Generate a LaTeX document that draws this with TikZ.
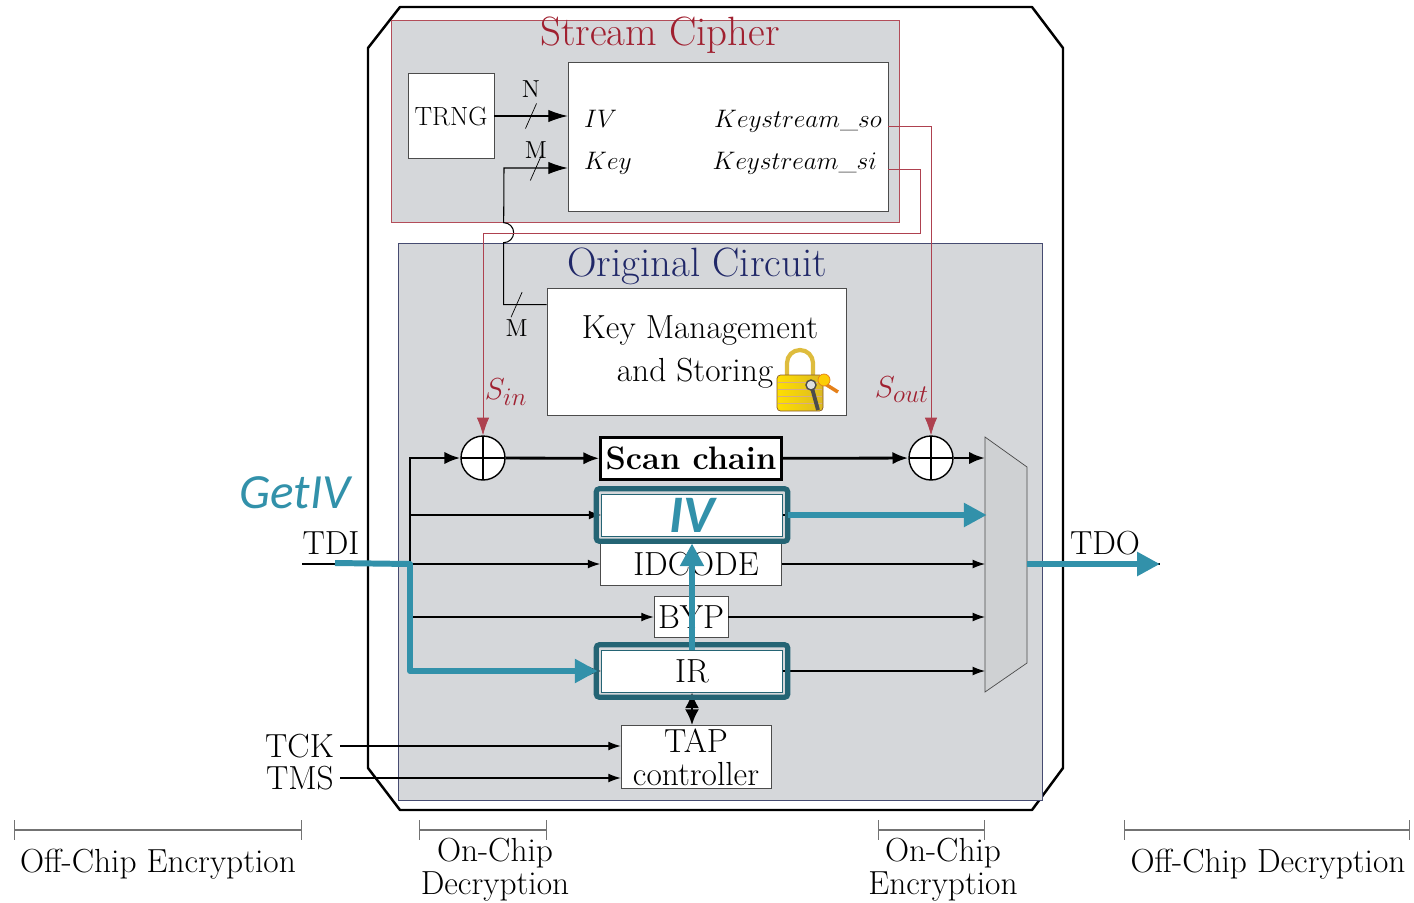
\documentclass[tikz,border=0pt]{standalone}
\usepackage{fontspec}
\newfontfamily\getivfont{Carlito}
\usetikzlibrary{positioning}
\usetikzlibrary{arrows.meta}
\usetikzlibrary{calc}
\definecolor{cipherred}{RGB}{160,32,48}
\definecolor{circuitnavy}{RGB}{32,40,104}
\definecolor{panelgray}{RGB}{213,215,218}
\definecolor{ivteal}{RGB}{50,145,170}
\definecolor{ivframe}{RGB}{36,100,116}
\tikzset{
  wire/.style={semithick,-{Latex[length=7pt,width=5pt]}},
  portwire/.style={semithick,-{Latex[length=11pt,width=7pt]}},
  bus/.style={line width=1.6pt,-{Latex[length=9pt,width=7pt]}},
  keywire/.style={draw=cipherred!85,thin,-{Latex[length=10pt,width=7pt]}},
  chip/.style={line width=1.4pt,line join=round},
  panel/.style={rectangle,draw=#1,thin,fill=panelgray,inner sep=0pt},
  paneltitle/.style={font=\fontsize{23.3}{26}\selectfont},
  portfont/.style={font=\fontsize{14}{16}\selectfont},
  lbl/.style={font=\fontsize{14}{15}\selectfont,inner sep=1pt},
  block/.style={rectangle,draw=black!70,fill=white,inner sep=1pt},
  reg/.style={block,minimum width=3.62cm,minimum height=0.84cm},
  scanbox/.style={reg,draw=black,line width=1.4pt,
    font=\fontsize{18.5}{20}\selectfont\bfseries},
  xor/.style={circle,draw,thick,fill=white,minimum size=0.88cm,inner sep=0pt,
    path picture={\draw[thick] (path picture bounding box.north) --
      (path picture bounding box.south) (path picture bounding box.west) --
      (path picture bounding box.east);}},
  slash/.style={inner sep=0pt,minimum width=0.2cm,minimum height=0.48cm},
  hiframe/.style={draw=ivframe,line width=3pt,rounded corners=2pt},
  getiv/.style={draw=ivteal,line width=3.4pt,line join=round,
    -{Triangle[length=13pt,width=13pt]}},
  spanbar/.style={draw=black!55,thick,{Bar[width=11pt]}-{Bar[width=11pt]}},
  twoline/.style={align=center,font=\fontsize{19}{18.8}\selectfont}
}

\begin{document}
\begin{tikzpicture}[x=0.02cm,y=-0.02cm,font=\fontsize{19}{21}\selectfont]
  \useasboundingbox (0,0) rectangle (1414,903);
  % chip outline
  \draw[chip] (400,7) -- (1032,7) -- (1063,48) -- (1063,768) -- (1032,810)
    -- (400,810) -- (368,768) -- (368,48) -- cycle;

  % stream cipher
  \node (cipher) [panel=cipherred!80,minimum width=10.16cm,minimum height=4.04cm]
    at (645,121) {};
  \node (ctitle) [paneltitle,text=cipherred] at (660,35) {Stream Cipher};
  \node (trng) [block,font=\fontsize{15}{16}\selectfont,minimum width=1.72cm,
    minimum height=1.7cm] at (451,116) {TRNG};
  \node (sc) [block,minimum width=6.4cm,minimum height=2.98cm] at (728,137) {};
  \node (ivport) [portfont,anchor=base west] at (578,127) {$IV$};
  \node (keyport) [portfont,anchor=base west] at (578,169) {$Key$};
  \node (soport) [portfont,anchor=base east] at (888,127) {$Keystream\_so$};
  \node (siport) [portfont,anchor=base east] at (883,169) {$Keystream\_si$};
  \draw[portwire] (trng.east) --
    node (nsl) [slash,label={[lbl,label distance=2pt]above:N}] {} (trng.east -| sc.west);

  % original circuit
  \node (oc) [panel=circuitnavy!60!gray,minimum width=12.88cm,minimum height=11.14cm]
    at (720,521.5) {};
  \node (otitle) [paneltitle,text=circuitnavy] at (697,266) {Original Circuit};
  \node (km) [block,minimum width=5.98cm,minimum height=2.54cm] at (696.5,351.5) {};
  \node (km1) at (700,330) {Key Management};
  \node (km2) at (695,373) {and Storing};
  % padlock
  \draw[line width=2.4pt,draw=yellow!45!brown] (787,380) -- (787,363)
    arc[start angle=180,end angle=360,radius=13] -- (813,380);
  \draw[draw=brown!70!black,left color=yellow!75!orange,right color=brown!55!yellow,
    rounded corners=2pt] (777,375) rectangle (823,411);
  \foreach \y in {382,389,396,403}
    \draw[brown!65,thin] (778,\y) -- (822,\y);
  \draw[orange!60!brown,line width=2pt] (822,382) -- (838,392);
  \draw[orange!60!brown,fill=yellow!65!orange] (824,380) circle[radius=6];
  \draw[gray!60!black,line width=2.2pt] (812,388) -- (818,410);
  \draw[gray!60!black,fill=gray!25,line width=0.8pt] (811,385) circle[radius=5];

  % key wire
  \coordinate (kmport) at ($(km.north west)+(0,17)$);
  \coordinate (keyin) at ($(sc.west)+(0,31)$);
  \draw[portwire] (kmport) --
    node (msl) [slash,pos=0.7,label={[lbl]below:M}] {} ++(-43,0)
    -- ++(0,-62) arc[start angle=90,end angle=-90,radius=10]
    -- (keyin -| 504,0) --
    node (ksl) [slash,label={[lbl,label distance=-3pt]above:M}] {} (keyin);
  \foreach \s in {nsl,msl,ksl}
    \draw[thin] (\s.south west) -- (\s.north east);

  % registers
  \node (xin) [xor] at (483,458) {};
  \node (scan) [scanbox] at (691,458.5) {Scan chain};
  \node (xout) [xor] at (931,458) {};
  \node (iv) [reg,draw=ivframe,text=ivteal,
    font=\getivfont\bfseries\itshape\fontsize{30}{30}\selectfont] at (692,515) {IV\hspace{0.25cm}};
  \node (idcode) [reg] at (691,564) {\hspace{0.2cm}IDCODE};
  \node (byp) [block,minimum width=1.48cm,minimum height=0.82cm] at (691,617) {BYP};
  \node (ir) [reg,draw=ivframe] at (692,671) {IR};
  \node (tap) [block,twoline,minimum width=3cm,minimum height=1.26cm]
    at (696,757) {TAP\\controller};
  \node (sin) [text=cipherred] at (506,392) {$S_{in}$};
  \node (sout) [text=cipherred] at (902,390) {$S_{out}$};

  % keystream wires
  \coordinate (so) at ($(sc.east)+(0,-11)$);
  \coordinate (si) at ($(sc.east)+(0,32)$);
  \draw[keywire] (so) -| (xout.north);
  \draw[keywire] (si) -- ++(32,0) -- ++(0,64) -| (xin.north);

  % multiplexer
  \coordinate (mux1) at (985,437);
  \coordinate (mux2) at (1027,467);
  \coordinate (mux3) at (1027,663);
  \coordinate (mux4) at (985,692);
  \coordinate (muxout) at (1027,564);
  \draw[draw=black!70,fill=panelgray!97!black] (mux1) -- (mux2) -- (mux3) -- (mux4) -- cycle;

  % scan bus
  \coordinate (split) at (410,458);
  \node (tdi) at (331,543) {TDI};
  \coordinate (tdiin) at (302,564);
  \draw[line width=1.6pt] (tdiin) -- (split |- tdiin);
  \draw[bus] (split |- ir) -- (split) -- (xin);
  \draw[bus] (xin) -- (scan);
  \draw[bus] (scan) -- (xout);
  \draw[bus] (xout) -- (xout -| mux1);
  \foreach \r in {iv,idcode,byp,ir} {
    \draw[wire] (split |- \r) -- (\r);
    \draw[wire] (\r) -- (\r -| mux1);
  }
  \draw[{Latex[length=9pt,width=8pt]}-{Latex[length=9pt,width=8pt]},line width=1.6pt]
    (ir.south) -- (ir.south |- tap.north);

  % tap inputs
  \node (tck) [anchor=east] at (340,746) {TCK};
  \node (tms) [anchor=east] at (340,778) {TMS};
  \draw[wire] (tck) -- (tck -| tap.west);
  \draw[wire] (tms) -- (tms -| tap.west);

  % output
  \node (tdo) at (1105,543) {TDO};
  \coordinate (tdoout) at (1160,564);
  \draw[semithick] (muxout) -- (tdoout);

  % GetIV path
  \node (getivlbl) [font=\getivfont\itshape\fontsize{28}{30}\selectfont,text=ivteal]
    at (295,493) {GetIV};
  \draw[hiframe] ([shift={(-5,5)}]iv.south west) rectangle ([shift={(5,-5)}]iv.north east);
  \draw[hiframe] ([shift={(-5,5)}]ir.south west) rectangle ([shift={(5,-5)}]ir.north east);
  \coordinate (getivin) at (335,563);
  \draw[getiv] (getivin) -- (split |- tdiin) -- (split |- ir) -- ([xshift=-2pt]ir.west);
  \draw[getiv] (ir.north) -- ([yshift=-4pt]iv.south);
  \draw[getiv] ([xshift=3pt]iv.east) -- ([xshift=1pt]iv.east -| mux1);
  \draw[getiv] (muxout) -- (tdoout);

  % encryption ranges
  \draw[spanbar] (14,830) -- (302,830);
  \node (offenc) at (158,864) {Off-Chip Encryption};
  \draw[spanbar] (419,830) -- (547,830);
  \node (ondec) [twoline] at (495,870) {On-Chip\\Decryption};
  \draw[spanbar] (878,830) -- (985,830);
  \node (onenc) [twoline] at (943,870) {On-Chip\\Encryption};
  \draw[spanbar] (1124,830) -- (1410,830);
  \node (offdec) at (1268,864) {Off-Chip Decryption};
\end{tikzpicture}
\end{document}
